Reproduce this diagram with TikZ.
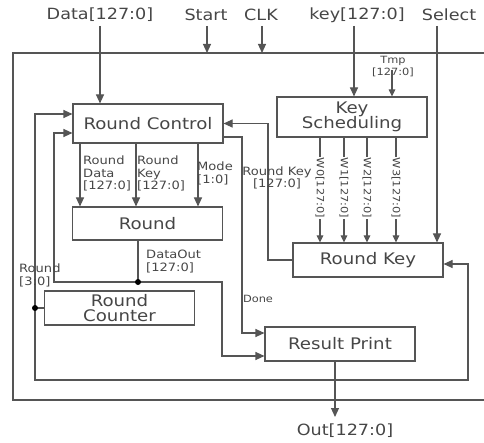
\documentclass[tikz,border=0pt]{standalone}
\usepackage{fontspec}
\setmainfont[FakeStretch=1.14]{DejaVu Sans}
\usetikzlibrary{arrows.meta}
\definecolor{ln}{RGB}{85,85,85}
\definecolor{tx}{RGB}{70,70,70}
\begin{document}
\begin{tikzpicture}[x=1bp,y=-1bp,
  wire/.style={draw=ln,line width=1.1bp},
  arr/.style={wire,-{Triangle[length=9bp,width=8bp]}},
  sarr/.style={wire,-{Triangle[length=7bp,width=6.5bp]}},
  blk/.style={draw=ln,line width=1.1bp,rectangle,minimum width=150bp,minimum height=34bp,inner sep=0pt,align=center,text=tx,font=\fontsize{16}{17}\selectfont},
  big/.style={text=tx,font=\fontsize{15.5}{17}\selectfont,inner sep=0pt},
  sml/.style={text=tx,font=\fontsize{11.5}{12.5}\selectfont,inner sep=0pt,align=left},
  wl/.style={text=tx,font=\fontsize{10}{12}\selectfont,inner sep=1pt,fill=white,rotate=-90},
  dotn/.style={circle,fill=black,inner sep=0pt,minimum size=6bp}
]
\useasboundingbox (0,0) rectangle (484,443);
% outer frame
\draw[wire] (484,53) -- (13,53) -- (13,400) -- (484,400);
% blocks
\node[blk,minimum height=39bp] (rc) at (148,123.5) {Round Control};
\node[blk,minimum height=33bp] (rd) at (147.5,223.5) {Round};
\node[blk,minimum height=40bp] (ks) at (352,117) {Key\\[-2pt]Scheduling};
\node[blk] (rk) at (368,260) {Round Key};
\node[blk] (rcnt) at (119.5,308) {Round\\[-2pt]Counter};
\node[blk] (rp) at (340,344) {Result Print};
% top inputs
\node[big] (din) at (100,15) {Data[127:0]};
\node[big] (st) at (206,15) {Start};
\node[big] (clk) at (261,15) {CLK};
\node[big] (key) at (357,15) {key[127:0]};
\node[big] (sel) at (449,15) {Select};
\coordinate (ftop) at (0,53);
\draw[arr] (din.south |- 0,26) -- (din.south |- rc.north);
\draw[arr] (207,26) -- (207,0 |- ftop);
\draw[arr] (262,26) -- (262,0 |- ftop);
\draw[arr] (354,26) -- (354,0 |- ks.north);
\draw[arr] (437,26) -- (437,0 |- rk.north);
% Tmp
\node[sml,align=center,font=\fontsize{10}{12}\selectfont] (tmp) at (393,67) {Tmp\\{}[127:0]};
\draw[sarr] (392,70) -- (392,0 |- ks.north);
% W lines
\foreach \x/\w in {320/0,344/1,367/2,396/3}{
  \draw[sarr] (\x,0 |- ks.south) -- (\x,0 |- rk.north);
  \node[wl] at (\x,188) {W\w[127:0]};
}
% Round control -> Round
\foreach \x in {80,136,198}{
  \draw[arr] (\x,0 |- rc.south) -- (\x,0 |- rd.north);
}
\node[sml,anchor=north west] (l1) at (83,156) {Round\\Data\\{}[127:0]};
\node[sml,anchor=north west] (l2) at (137,156) {Round\\Key\\{}[127:0]};
\node[sml,anchor=north west] (l3) at (197,162) {Mode\\{}[1:0]};
% Round Key feedback to Round Control
\draw[arr] (rk.west) -- (268,0 |- rk.west) -- (268,0 |- rc.east) -- (rc.east);
\node[sml,align=center] (l4) at (277,178) {Round Key\\{}[127:0]};
% Done
\draw[arr] (rc.east |- 0,137) -- (242,137) -- (242,333) -- (rp.west |- 0,333);
\node[sml,font=\fontsize{10}{12}\selectfont] (l5) at (258,299) {Done};
% DataOut
\coordinate (dot1) at (138,282);
\draw[wire] (rd.south -| dot1) -- (dot1);
\draw[arr] (dot1) -- (54,282) -- (54,133) -- (rc.west |- 0,133);
\draw[arr] (dot1) -- (222,282) -- (222,356) -- (rp.west |- 0,356);
\node[dotn] at (dot1) {};
\node[sml,anchor=north west] (l6) at (146,250) {DataOut\\{}[127:0]};
% Round counter loop
\coordinate (dot2) at (35,308);
\draw[wire] (rcnt.west) -- (dot2);
\draw[arr] (dot2) -- (35,114) -- (rc.west |- 0,114);
\draw[arr] (dot2) -- (35,380) -- (468,380) -- (468,264) -- (rk.east |- 0,264);
\node[dotn] at (dot2) {};
\node[sml,anchor=north west] (l7) at (19,264) {Round\\{}[3:0]};
% output
\draw[arr] (rp.south -| 335,0) -- (335,417);
\node[big] (out) at (345,431) {Out[127:0]};
\end{tikzpicture}
\end{document}
